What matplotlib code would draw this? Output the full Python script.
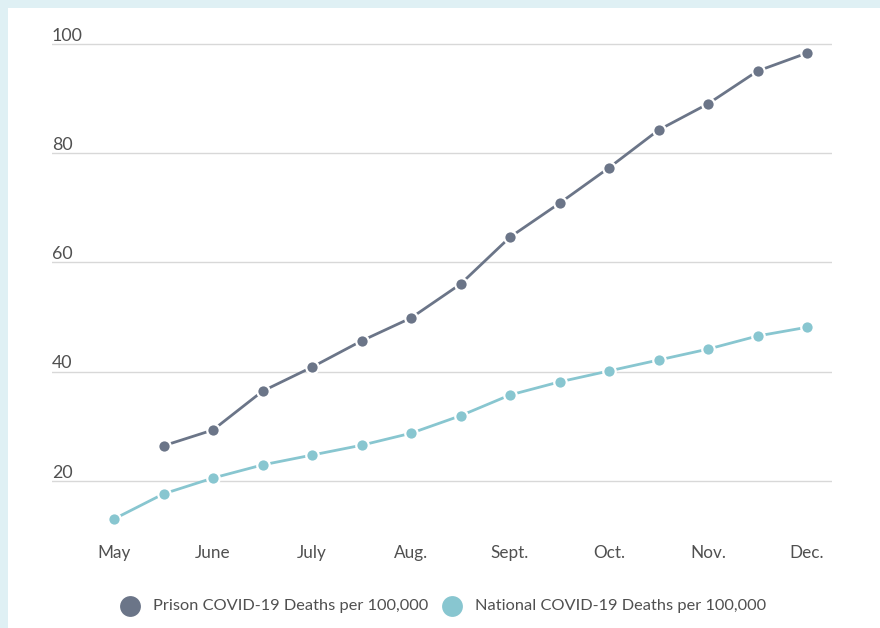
import matplotlib
matplotlib.use("Agg")
import matplotlib.pyplot as plt
from matplotlib.patches import Rectangle
from matplotlib.lines import Line2D
import matplotlib.transforms as mtransforms

plt.rcParams['font.family'] = ['Lato', 'DejaVu Sans']

# Data (semi-monthly points, May -> Dec.)
month_labels = ["May", "June", "July", "Aug.", "Sept.", "Oct.", "Nov.", "Dec."]
national = [13.0, 17.6, 20.5, 22.9, 24.7, 26.5, 28.7, 31.9, 35.7, 38.1,
            40.1, 42.1, 44.1, 46.5, 48.1]
prison = [26.4, 29.3, 36.4, 40.8, 45.6, 49.8, 56.0, 64.6, 70.8, 77.3,
          84.2, 89.0, 95.0, 98.3]
y_ticks = [20, 40, 60, 80, 100]

prison_color = "#6b7588"
national_color = "#88c6d0"
text_color = "#505050"
grid_color = "#d8d8d8"

W, H = 880, 628
fig = plt.figure(figsize=(W / 100, H / 100), dpi=100)
fig.patch.set_facecolor("#dff0f4")
fig.add_artist(Rectangle((8 / W, 0), 1 - 8 / W, 1 - 8 / H,
                         transform=fig.transFigure, facecolor="white",
                         edgecolor="none", zorder=0))

ax_left, ax_right = 52, 832
ax_top, ax_bottom = 40, 535
ax = fig.add_axes([ax_left / W, (H - ax_bottom) / H,
                   (ax_right - ax_left) / W, (ax_bottom - ax_top) / H])
ax.set_facecolor("none")

x_nat = list(range(len(national)))
x_pri = list(range(1, 1 + len(prison)))

line_kw = dict(linewidth=2.0, marker="o", markersize=9,
               markeredgecolor="white", markeredgewidth=1.6, clip_on=False)
ax.plot(x_nat, national, color=national_color, zorder=3, **line_kw)
ax.plot(x_pri, prison, color=prison_color, zorder=4, **line_kw)

x0 = (ax_left - 114) / 49.5
x1 = (ax_right - 114) / 49.5
ax.set_xlim(x0, x1)
ax.set_ylim((590 - ax_bottom) / 5.4625, (590 - ax_top) / 5.4625)

for v in y_ticks:
    ax.axhline(v, color=grid_color, linewidth=1.0, zorder=1)
    ax.text(0, v, str(v), transform=mtransforms.blended_transform_factory(ax.transAxes, ax.transData),
            ha="left", va="bottom", fontsize=12.8, color=text_color)

ax.set_yticks([])
ax.set_xticks(list(range(0, 15, 2)))
ax.set_xticklabels(month_labels, fontsize=12.3, color=text_color)
ax.tick_params(axis="x", length=0, pad=7.5)
for s in ax.spines.values():
    s.set_visible(False)

# Legend
ly = (H - 606) / H
items = [(130, 153, prison_color, "Prison COVID-19 Deaths per 100,000"),
         (452, 475, national_color, "National COVID-19 Deaths per 100,000")]
for cx, tx, col, lab in items:
    fig.add_artist(Line2D([cx / W], [ly], marker="o", markersize=15,
                          color=col, markeredgewidth=0, linestyle="none",
                          transform=fig.transFigure))
    fig.text(tx / W, ly, lab, ha="left", va="center", fontsize=11.8,
             color=text_color)

fig.savefig("out.png", dpi=100, facecolor=fig.get_facecolor())
